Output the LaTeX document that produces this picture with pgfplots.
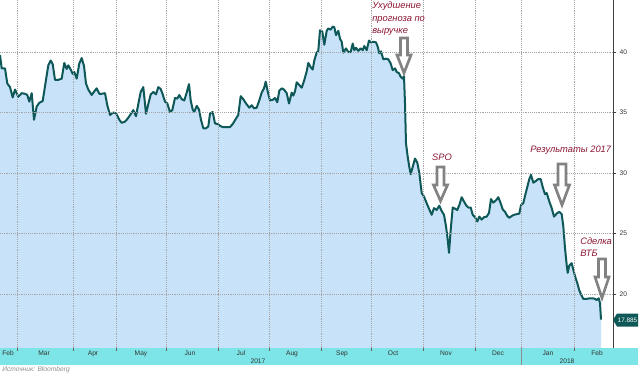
\documentclass[border=0pt]{standalone}
\usepackage{fontspec}
\setmainfont{Liberation Sans}
\usepackage{pgfplots}
\pgfplotsset{compat=1.18}
\usepackage{pgfplotstable}
\definecolor{fillblue}{RGB}{200,226,250}
\definecolor{lineteal}{RGB}{14,88,88}
\definecolor{bandcol}{RGB}{125,229,231}
\definecolor{annot}{RGB}{140,22,50}
\definecolor{arrowgray}{RGB}{130,130,130}
\definecolor{gridgray}{RGB}{165,165,165}

\pgfplotstableread{
x y
0 39.75
1.7 38.65
5 38.65
7.3 37.4
10 37.1
12.7 36.25
15 36.9
18.3 36.3
21.7 36.6
25 36.55
27.3 36.45
29.3 35.9
31.7 36.6
34 34.4
36.7 35.5
39.3 35.8
42.7 35.95
46 37.7
48.3 38.9
50.7 39.3
52.7 39.0
55 37.7
58.3 37.7
61.7 37.8
64.3 39.1
66.7 38.6
68.3 38.9
71 38.5
72.7 38.2
74.3 38.35
76.7 37.8
79.3 39.05
81.7 39.5
84 38.85
86 37.4
88.3 36.9
91.7 36.45
94.3 36.75
96.7 37.0
99.3 36.55
101.7 36.55
105 36.6
107.3 35.6
110 34.8
113.3 35.0
116 34.95
119.3 34.4
121.7 34.15
125 34.25
127.7 34.5
131 34.9
133.3 35.2
136 34.7
138.3 35.7
140.7 36.7
143.3 37.1
146 34.9
148.3 35.7
150.7 36.5
153.3 36.7
156 36.5
158.3 37.1
160.7 36.95
162.7 36.5
165 35.9
167.3 35.75
170 35.05
172.3 35.2
175 36.2
177.3 36.15
179.3 36.45
181.7 36.1
184.3 36.0
186.7 36.65
189 37.35
190.7 36.0
192.7 35.25
194.3 35.05
196.7 35.55
199 35.25
201 34.4
203.3 33.7
206 33.7
208.3 33.85
210 34.9
212.7 35.05
215 34.1
217.7 34.05
220 33.9
222.7 33.8
227.3 33.8
230 33.8
232.7 34.05
236 34.5
238.3 34.8
240.7 36.35
243.3 36.1
246 35.75
249.3 35.4
251.7 35.6
254 35.35
256.7 35.4
259.3 36.0
261.7 36.65
264 37.0
265.7 37.55
267.7 36.75
270 36.0
272.7 36.05
275 36.2
277.3 35.85
279.3 36.8
281.7 37.0
284 36.9
286.7 36.6
289 35.75
291.7 36.65
293.3 36.4
295 36.75
296.7 37.5
299 37.3
301.7 37.05
304 37.6
306.7 38.4
308.3 39.1
310.7 38.75
312.7 38.55
314.3 39.3
316.7 39.95
318.3 40.1
320 41.8
322.3 41.7
324.3 40.6
326.7 41.75
328.3 41.95
330.7 41.85
332.7 42.1
334.3 42.05
336 41.4
338.3 41.75
340 41.1
341.7 40.85
343.3 39.95
346 40.3
348.3 40.0
350.7 40.0
352.7 40.7
354.3 40.15
356 40.35
358.3 40.1
360.7 40.3
362.7 40.15
364.3 40.5
366.7 40.15
369 40.95
371 40.8
373.3 40.85
376 40.8
377.7 40.45
379.3 39.9
381 40.05
383.3 39.4
385.7 39.45
388.3 39.4
390.7 39.05
392.7 38.5
395 38.65
396.7 38.35
399 38.25
400.7 37.95
402.7 37.8
404 38.0
405 35.75
406 32.45
407.7 31.35
409.3 30.5
410.7 29.9
412.7 30.5
415 31.2
417.3 30.85
419.3 30.0
421.7 28.35
424 28.05
426.7 27.5
429.3 27.0
431.7 26.55
434 27.1
436.7 26.95
439.3 27.3
441.7 26.85
444 26.55
446 25.6
447.7 24.5
449 23.4
450.7 25.3
452.7 27.15
455 27.05
457.3 26.95
459.3 27.35
461.7 28.0
463.3 27.75
466 27.35
468.3 27.15
470.7 27.15
472.7 26.55
475 26.35
477.3 26.0
479.3 26.4
481.7 26.15
484 26.35
486.7 26.4
489 26.7
491 27.85
493.3 27.55
496 27.75
498.3 28.0
500.7 27.5
502.7 27.0
505 26.8
507.3 26.45
509.3 26.3
511.7 26.45
514 26.55
516.7 26.6
519.3 26.65
521 27.35
523.3 27.5
525 28.1
527.3 28.85
529.3 29.5
531 29.85
533.3 29.2
536 29.35
538.3 29.5
540.7 29.5
542.7 28.85
545 28.25
546.7 28.35
549.3 27.65
551.7 27.1
554 26.4
556.7 26.65
559.3 26.8
561.7 26.6
563.3 25.6
565 23.8
566.7 22.4
567.7 21.75
569.3 22.35
571.7 22.55
573.3 22.0
575.7 21.3
577.3 20.9
579.3 20.3
581.7 19.85
583.3 19.6
586.7 19.6
590 19.65
592.7 19.65
595 19.6
596.7 19.5
598.7 19.65
600 19.25
601 17.885
}\pricedata

\newcommand{\blockarrow}[6]{%
  \draw[arrowgray, line width=2pt, fill=white]
    (#1-#2,#4) -- (#1+#2,#4) -- (#1+#2,#5) -- (#1+#3,#5) -- (#1,#6)
    -- (#1-#3,#5) -- (#1-#2,#5) -- cycle;}

\begin{document}
\begin{tikzpicture}
\useasboundingbox (0,0) rectangle (480pt,-281.25pt);
\begin{axis}[
  at={(0pt,0pt)}, anchor=north west,
  scale only axis, width=459.75pt, height=261pt,
  xmin=0, xmax=613, ymin=15.54, ymax=44.3,
  axis line style={draw=none},
  axis on top,
  xtick={17,73,116,166,218,269,321,371,423,475,521,574},
  xticklabels={}, xtick style={draw=none},
  ytick={20,25,30,35,40},
  ytick pos=right, yticklabel pos=right,
  tick align=outside, major tick length=2.5pt,
  ytick style={draw=black!75, line width=0.5pt},
  grid=major,
  major grid style={densely dotted, gridgray, line width=0.5pt},
  yticklabel style={font=\fontsize{5}{6}\selectfont, text=black!80, xshift=-1pt},
  /pgf/number format/assume math mode=true,
]
\addplot[fill=fillblue, draw=none] table[x=x,y=y]{\pricedata} \closedcycle;
\addplot[lineteal, line width=1.5pt, line join=round, mark=none] table[x=x,y=y]{\pricedata};
\end{axis}
\begin{scope}[x=0.75pt,y=-0.75pt]
  \draw[black!75, line width=0.6pt] (613,0) -- (613,348);
  \fill[bandcol] (0,348) rectangle (638,365);
  \foreach \t in {17,73,116,166,218,269,321,371,423,475,574}
    \draw[black!60, line width=0.4pt] (\t,348) -- (\t,351);
  \draw[black!45, line width=0.5pt] (521,348) -- (521,365);
  \foreach \xx/\m in {8/Feb,44/Mar,93/Apr,141/May,190/Jun,241/Jul,292/Aug,342/Sep,393/Oct,446/Nov,498/Dec,548/Jan,597/Feb}
    \node[font=\fontsize{5}{6}\selectfont, text=black!80, inner sep=0pt] at (\xx,353.5) {\m};
  \node[font=\fontsize{5}{6}\selectfont, text=black!80, inner sep=0pt] at (258,361) {2017};
  \node[font=\fontsize{5}{6}\selectfont, text=black!80, inner sep=0pt] at (567,361) {2018};
  \node[font=\fontsize{5}{6}\selectfont\itshape, text=black!45, anchor=west, inner sep=0pt] at (2,369.5) {Источник: Bloomberg};
  % last value label
  \fill[lineteal] (613,320) -- (617,313.5) -- (638,313.5) -- (638,326.5) -- (617,326.5) -- cycle;
  \node[font=\fontsize{4.8}{5.5}\selectfont, text=white, inner sep=0pt] at (627.5,320) {17.885};
  % arrows
  \blockarrow{404}{3.5}{7}{38}{55}{73}
  \blockarrow{440.5}{3.5}{7}{167}{185}{201}
  \blockarrow{562}{4}{7.5}{164}{185}{205}
  \blockarrow{602}{3.5}{7}{259}{277}{298}
  % annotations
  \node[font=\fontsize{7}{9.4}\selectfont\itshape, text=annot, anchor=north west, align=left, inner sep=0pt] at (372,1.5) {Ухудшение\\прогноза по\\выручке};
  \node[font=\fontsize{7}{9.4}\selectfont\itshape, text=annot, inner sep=0pt] at (442,157) {SPO};
  \node[font=\fontsize{7}{9.4}\selectfont\itshape, text=annot, anchor=west, inner sep=0pt] at (530,150.7) {Результаты 2017};
  \node[font=\fontsize{7}{9.4}\selectfont\itshape, text=annot, anchor=north west, align=left, inner sep=0pt] at (580,237) {Сделка\\ВТБ};
\end{scope}
\end{tikzpicture}
\end{document}
